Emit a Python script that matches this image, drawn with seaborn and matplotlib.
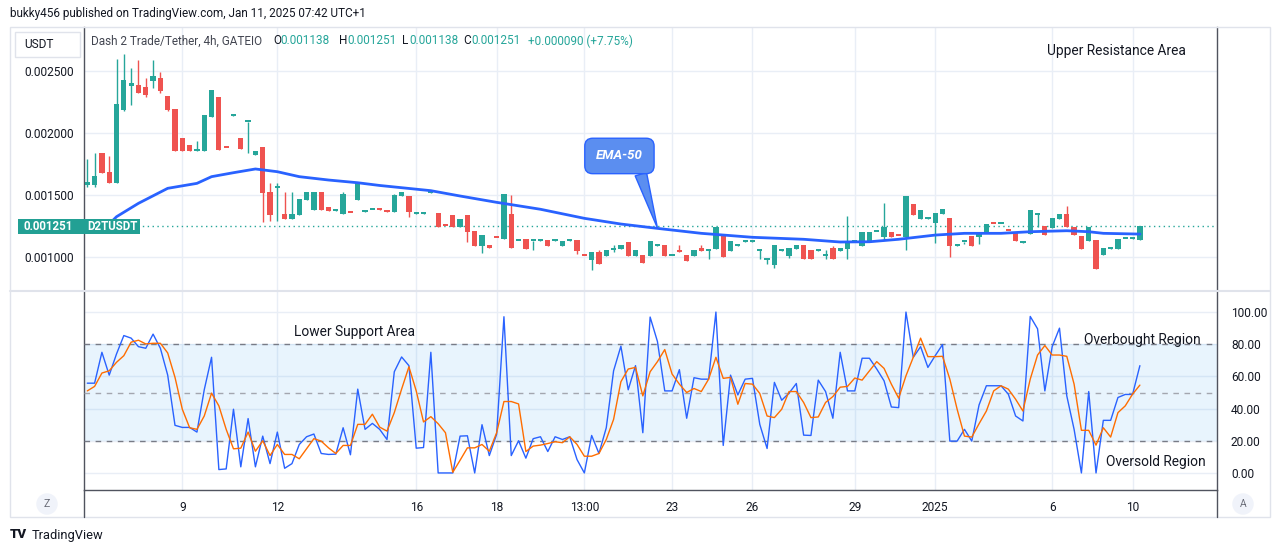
import numpy as np
import pandas as pd
import matplotlib
matplotlib.use("Agg")
import matplotlib.pyplot as plt
from matplotlib.patches import Rectangle
from matplotlib.lines import Line2D
import seaborn as sns

# ---- data (4h candles, D2T/USDT) ----
opens = [0.001581, 0.001581, 0.001836, 0.001685, 0.001599, 0.002185, 0.002381, 0.002387, 0.002371, 0.002422,
         0.002444, 0.002298, 0.002194, 0.001960, 0.001903, 0.001857, 0.001857, 0.002131, 0.002293, 0.001879,
         0.002141, 0.001960, 0.002086, 0.001825, 0.001887, 0.001527, 0.001560, 0.001347, 0.001309, 0.001341,
         0.001462, 0.001379, 0.001524, 0.001403, 0.001375, 0.001349, 0.001354, 0.001462, 0.001367, 0.001377,
         0.001385, 0.001379, 0.001365, 0.001494, 0.001492, 0.001350, 0.001350, 0.001520, 0.001352, 0.001252,
         0.001336, 0.001244, 0.001336, 0.001207, 0.001091, 0.001094, 0.001153, 0.001145, 0.001347, 0.001127,
         0.001143, 0.001127, 0.001133, 0.001137, 0.001133, 0.001091, 0.001133, 0.001137, 0.001008, 0.000976,
         0.001043, 0.001008, 0.001054, 0.001067, 0.001121, 0.001008, 0.001014, 0.001008, 0.001092, 0.001094,
         0.001008, 0.001054, 0.001016, 0.001008, 0.001073, 0.001052, 0.001067, 0.001172, 0.001051, 0.001092,
         0.001125, 0.001125, 0.001052, 0.000979, 0.000938, 0.001052, 0.001010, 0.001065, 0.001097, 0.001056,
         0.001052, 0.001012, 0.001073, 0.001051, 0.001067, 0.001119, 0.001091, 0.001123, 0.001200, 0.001164,
         0.001202, 0.001169, 0.001159, 0.001427, 0.001309, 0.001310, 0.001277, 0.001349, 0.001315, 0.001092,
         0.001121, 0.001172, 0.001159, 0.001196, 0.001268, 0.001264, 0.001209, 0.001194, 0.001117, 0.001183,
         0.001342, 0.001250, 0.001236, 0.001309, 0.001347, 0.001244, 0.001169, 0.001131, 0.001137, 0.001019,
         0.001068, 0.001067, 0.001146, 0.001149, 0.001138]
highs = [0.001790, 0.001839, 0.001840, 0.001815, 0.002597, 0.002637, 0.002527, 0.002589, 0.002444, 0.002589,
         0.002492, 0.002300, 0.002194, 0.001960, 0.001903, 0.001938, 0.002145, 0.002347, 0.002293, 0.001879,
         0.002145, 0.001960, 0.002086, 0.001855, 0.001887, 0.001597, 0.001597, 0.001524, 0.001524, 0.001468,
         0.001524, 0.001524, 0.001524, 0.001403, 0.001377, 0.001524, 0.001354, 0.001597, 0.001369, 0.001379,
         0.001385, 0.001379, 0.001508, 0.001524, 0.001492, 0.001352, 0.001352, 0.001522, 0.001352, 0.001252,
         0.001336, 0.001304, 0.001336, 0.001207, 0.001175, 0.001094, 0.001153, 0.001508, 0.001500, 0.001129,
         0.001143, 0.001129, 0.001135, 0.001137, 0.001135, 0.001131, 0.001135, 0.001137, 0.001008, 0.001038,
         0.001056, 0.001054, 0.001097, 0.001097, 0.001121, 0.001054, 0.001014, 0.001129, 0.001094, 0.001094,
         0.001010, 0.001094, 0.001016, 0.001054, 0.001094, 0.001054, 0.001242, 0.001172, 0.001129, 0.001094,
         0.001127, 0.001127, 0.001054, 0.000981, 0.001097, 0.001054, 0.001073, 0.001094, 0.001097, 0.001056,
         0.001054, 0.001054, 0.001089, 0.001073, 0.001331, 0.001121, 0.001202, 0.001202, 0.001202, 0.001433,
         0.001202, 0.001169, 0.001492, 0.001427, 0.001379, 0.001312, 0.001355, 0.001387, 0.001315, 0.001094,
         0.001123, 0.001172, 0.001202, 0.001266, 0.001268, 0.001266, 0.001209, 0.001194, 0.001119, 0.001379,
         0.001344, 0.001250, 0.001315, 0.001347, 0.001411, 0.001244, 0.001169, 0.001242, 0.001137, 0.001073,
         0.001070, 0.001145, 0.001148, 0.001151, 0.001251]
lows = [0.001562, 0.001565, 0.001675, 0.001595, 0.001595, 0.002180, 0.002226, 0.002320, 0.002290, 0.002365,
        0.002325, 0.002180, 0.001857, 0.001857, 0.001857, 0.001857, 0.001857, 0.002131, 0.001863, 0.001877,
        0.002141, 0.001871, 0.001841, 0.001825, 0.001285, 0.001293, 0.001293, 0.001309, 0.001309, 0.001341,
        0.001462, 0.001379, 0.001379, 0.001373, 0.001375, 0.001349, 0.001352, 0.001462, 0.001367, 0.001377,
        0.001377, 0.001365, 0.001365, 0.001494, 0.001320, 0.001350, 0.001350, 0.001520, 0.001240, 0.001250,
        0.001244, 0.001244, 0.001123, 0.001091, 0.001035, 0.001075, 0.001151, 0.001145, 0.001075, 0.001127,
        0.001067, 0.001056, 0.001133, 0.001091, 0.001133, 0.001091, 0.001133, 0.001022, 0.001006, 0.000898,
        0.000946, 0.001008, 0.001040, 0.001067, 0.001008, 0.001008, 0.000954, 0.001008, 0.001092, 0.001008,
        0.001008, 0.001043, 0.000970, 0.001008, 0.001051, 0.000986, 0.001067, 0.001002, 0.001051, 0.001092,
        0.001125, 0.001125, 0.000986, 0.000941, 0.000914, 0.001052, 0.000990, 0.001065, 0.000981, 0.000981,
        0.001052, 0.000986, 0.000981, 0.001051, 0.000986, 0.001119, 0.001091, 0.001123, 0.001200, 0.001137,
        0.001164, 0.001167, 0.001056, 0.001341, 0.001309, 0.001310, 0.001110, 0.001349, 0.001002, 0.001092,
        0.001102, 0.001091, 0.001102, 0.001196, 0.001266, 0.001264, 0.001207, 0.001131, 0.001117, 0.001183,
        0.001244, 0.001180, 0.001236, 0.001309, 0.001244, 0.001180, 0.001067, 0.001131, 0.000906, 0.001019,
        0.001068, 0.001067, 0.001146, 0.001149, 0.001138]
closes = [0.001602, 0.001653, 0.001680, 0.001599, 0.002234, 0.002427, 0.002403, 0.002325, 0.002306, 0.002460,
          0.002341, 0.002185, 0.001857, 0.001857, 0.001857, 0.001863, 0.002145, 0.002347, 0.001863, 0.001877,
          0.002145, 0.001871, 0.002087, 0.001855, 0.001519, 0.001341, 0.001565, 0.001309, 0.001347, 0.001468,
          0.001524, 0.001524, 0.001379, 0.001373, 0.001377, 0.001508, 0.001352, 0.001597, 0.001369, 0.001379,
          0.001377, 0.001365, 0.001498, 0.001524, 0.001365, 0.001352, 0.001352, 0.001522, 0.001240, 0.001250,
          0.001244, 0.001304, 0.001204, 0.001091, 0.001175, 0.001075, 0.001151, 0.001508, 0.001075, 0.001129,
          0.001067, 0.001129, 0.001135, 0.001091, 0.001135, 0.001131, 0.001135, 0.001051, 0.001006, 0.001038,
          0.000946, 0.001054, 0.001056, 0.001097, 0.001008, 0.001054, 0.000954, 0.001129, 0.001094, 0.001008,
          0.001010, 0.001043, 0.000970, 0.001054, 0.001051, 0.001054, 0.001242, 0.001002, 0.001129, 0.001094,
          0.001127, 0.001127, 0.001054, 0.000981, 0.001097, 0.001054, 0.001073, 0.001094, 0.000981, 0.000981,
          0.001054, 0.001014, 0.000981, 0.001073, 0.001119, 0.001121, 0.001202, 0.001202, 0.001202, 0.001242,
          0.001164, 0.001167, 0.001492, 0.001341, 0.001379, 0.001312, 0.001355, 0.001387, 0.001091, 0.001094,
          0.001123, 0.001091, 0.001202, 0.001266, 0.001266, 0.001266, 0.001207, 0.001131, 0.001119, 0.001379,
          0.001344, 0.001180, 0.001315, 0.001347, 0.001244, 0.001180, 0.001067, 0.001242, 0.000906, 0.001073,
          0.001070, 0.001145, 0.001148, 0.001151, 0.001251]

# EMA-50 (bar index, value)
ema_bar = [3, 4, 7, 11, 15, 17, 20, 23, 26, 29, 33, 37, 40, 47, 51, 56, 62, 68, 73, 78,
           84, 91, 98, 103, 107, 111, 116, 120, 125, 129, 134, 137, 139, 144]
ema_val = [0.001266, 0.001325, 0.001433, 0.001554, 0.001594, 0.001648, 0.001680, 0.001710, 0.001688, 0.001648,
           0.001621, 0.001599, 0.001577, 0.001535, 0.001492, 0.001441, 0.001385, 0.001312, 0.001266, 0.001231,
           0.001191, 0.001159, 0.001143, 0.001121, 0.001123, 0.001143, 0.001177, 0.001191, 0.001191, 0.001204,
           0.001212, 0.001204, 0.001191, 0.001185]

# Stochastic RSI %K (blue) and %D (orange)
stoch_k = [55.8, 55.8, 75.0, 60.8, 74.0, 85.4, 83.8, 78.5, 77.5, 86.3,
           77.5, 60.8, 29.6, 28.3, 28.3, 25.4, 51.7, 71.9, 2.1, 2.5,
           39.6, 3.8, 33.8, 3.8, 22.9, 5.8, 25.4, 2.9, 5.8, 17.7,
           22.5, 24.2, 12.1, 11.5, 11.7, 28.1, 11.3, 52.1, 27.1, 30.8,
           27.1, 20.8, 62.9, 72.1, 66.7, 15.4, 15.8, 75.0, 0.0, 0.0,
           0.0, 22.9, 23.1, 0.0, 30.0, 10.8, 24.0, 97.1, 10.8, 20.0,
           9.2, 21.3, 22.5, 13.3, 22.5, 20.8, 22.5, 8.3, 0.0, 23.3,
           12.1, 28.1, 63.5, 78.8, 51.7, 66.7, 25.0, 96.9, 81.7, 51.0,
           51.0, 64.2, 34.0, 59.2, 58.3, 58.3, 100.0, 17.1, 60.8, 48.5,
           58.3, 58.8, 30.2, 15.2, 56.3, 45.2, 49.6, 55.6, 23.5, 23.3,
           57.7, 50.6, 34.0, 75.0, 51.0, 51.0, 71.3, 71.3, 64.6, 57.3,
           41.0, 40.6, 100.0, 71.9, 78.5, 65.6, 72.9, 79.8, 19.8, 19.8,
           27.1, 19.8, 42.3, 54.2, 54.2, 54.2, 49.0, 35.4, 32.3, 97.3,
           89.6, 51.0, 78.5, 90.0, 47.9, 27.1, 0.0, 50.6, 0.0, 32.7,
           32.7, 46.9, 48.8, 48.8, 66.7]
stoch_d = [51.0, 53.8, 62.1, 63.5, 68.8, 72.9, 81.3, 82.5, 80.2, 80.6,
           80.6, 74.6, 59.4, 39.6, 28.1, 27.1, 35.4, 49.6, 41.7, 27.1,
           15.0, 15.4, 25.4, 13.5, 20.0, 10.8, 17.7, 11.5, 11.5, 8.8,
           15.0, 21.3, 19.8, 15.6, 12.1, 17.1, 17.1, 30.2, 30.2, 36.5,
           28.5, 26.0, 37.5, 52.1, 66.0, 51.0, 31.7, 35.0, 30.6, 25.0,
           0.4, 7.9, 15.6, 15.6, 17.7, 13.5, 25.0, 44.4, 44.4, 42.9,
           13.3, 16.7, 17.3, 18.3, 19.4, 18.8, 22.5, 17.7, 10.4, 10.4,
           12.1, 20.8, 33.3, 56.7, 64.6, 65.6, 47.9, 62.9, 69.2, 76.7,
           61.5, 55.2, 50.0, 52.5, 50.6, 58.3, 71.9, 58.8, 59.4, 42.7,
           55.6, 55.2, 49.4, 35.4, 34.4, 39.6, 50.6, 50.6, 43.8, 34.4,
           34.8, 43.8, 47.5, 53.3, 53.8, 59.0, 57.7, 63.5, 69.2, 65.0,
           55.2, 46.5, 60.4, 71.9, 83.8, 72.3, 72.3, 72.5, 58.3, 39.6,
           22.9, 22.3, 30.6, 38.5, 51.0, 54.2, 52.1, 45.8, 38.5, 58.3,
           73.3, 79.2, 73.3, 73.3, 72.5, 55.2, 26.5, 26.5, 17.3, 28.1,
           22.3, 37.5, 41.7, 49.0, 54.6]

# time axis labels and the bar they sit on
tick_bars = [13, 26, 45, 56, 68, 80, 91, 105, 116, 132, 143]
tick_labels = ["9", "12", "16", "18", "13:00", "23", "26", "29", "2025", "6", "10"]

price_ticks = [0.0010, 0.0015, 0.0020, 0.0025]
stoch_ticks = [0, 20, 40, 60, 80, 100]
last_price = 0.001251

# ---- styling ----
sns.set_theme(style="white")
plt.rcParams['font.family'] = ['Roboto', 'DejaVu Sans']

UP = "#26a69a"
DOWN = "#ef5350"
TXT = "#131722"
GRID = "#e9eef6"
AXL = "#50535e"

W, H = 1281, 553
fig = plt.figure(figsize=(W / 100, H / 100), dpi=100)
fig.patch.set_facecolor("white")


def fx(x):
    return x / W


def fy(y):
    return 1 - y / H


ax1 = fig.add_axes([fx(84), fy(290), (1217 - 84) / W, (290 - 27) / H])
ax2 = fig.add_axes([fx(84), fy(490), (1217 - 84) / W, (490 - 291) / H])

df = pd.DataFrame({"o": opens, "h": highs, "l": lows, "c": closes})
df["bar"] = np.arange(len(df))
df["col"] = np.where(df["c"] >= df["o"], UP, DOWN)

# candles
ax1.vlines(df["bar"], df["l"], df["h"], colors=df["col"], lw=1, zorder=3)
body = (df["c"] - df["o"]).abs().clip(lower=1.6e-5)
ax1.bar(df["bar"], body, bottom=df[["o", "c"]].min(axis=1), width=0.72,
        color=df["col"], linewidth=0, zorder=4)

# EMA-50
sns.lineplot(x=ema_bar, y=ema_val, ax=ax1, color="#2962ff", lw=2, sort=False, zorder=5)
ax1.axhline(last_price, color=UP, lw=1, ls=(0, (1, 2.5)), zorder=2)

ax1.set_xlim(-0.45, 154.55)
ax1.set_ylim(0.000734, 0.002855)
ax1.set_yticks(price_ticks)
ax1.set_yticklabels([f"{v:.6f}" for v in price_ticks])
ax1.set_xticks(tick_bars)
ax1.set_xticklabels([])
ax1.tick_params(axis="y", length=0, pad=7, labelsize=8.6, labelcolor=TXT)
ax1.tick_params(axis="x", length=0)
ax1.grid(True, color=GRID, lw=1)
ax1.set_axisbelow(True)
for s in ["top", "bottom"]:
    ax1.spines[s].set_visible(False)
for s in ["left", "right"]:
    ax1.spines[s].set_color(AXL)
    ax1.spines[s].set_linewidth(1)

# callout
ax1.annotate("EMA-50", xy=(78, 0.001234), xytext=(72.8, 0.001815),
             ha="center", va="center", color="white", fontsize=9.5,
             fontweight="bold", fontstyle="italic", zorder=10,
             bbox=dict(boxstyle="round,pad=0.85,rounding_size=0.6", fc="#5b8ef0", ec="#2962ff", lw=1),
             arrowprops=dict(arrowstyle="wedge,tail_width=0.9,shrink_factor=0.5", fc="#5b8ef0",
                             ec="#2962ff", lw=1, relpos=(0.88, 0.0), shrinkA=0, shrinkB=0))

# stochastic RSI pane
ax2.axhspan(20, 80, color="#2196f3", alpha=0.1, lw=0, zorder=1)
sns.lineplot(x=df["bar"], y=stoch_k, ax=ax2, color="#2962ff", lw=1, sort=False, zorder=4)
sns.lineplot(x=df["bar"], y=stoch_d, ax=ax2, color="#ff6d00", lw=1, sort=False, zorder=5)
for lvl, c in [(80, "#787b86"), (50, "#a3a6af"), (20, "#787b86")]:
    ax2.axhline(lvl, color=c, lw=1, ls=(0, (4, 4)), zorder=3)

ax2.set_xlim(-0.45, 154.55)
ax2.set_ylim(-10.6, 113.1)
ax2.set_xticks(tick_bars)
ax2.set_xticklabels(tick_labels)
ax2.set_yticks(stoch_ticks)
ax2.set_yticklabels([f"{v:.2f}" for v in stoch_ticks])
ax2.yaxis.tick_right()
ax2.set_ylabel("")
ax2.set_xlabel("")
ax1.set_ylabel("")
ax1.set_xlabel("")
ax2.tick_params(axis="y", length=0, pad=10, labelsize=8.6, labelcolor=TXT)
ax2.tick_params(axis="x", length=0, pad=8, labelsize=8.6, labelcolor=TXT)
ax2.grid(True, color=GRID, lw=1)
ax2.set_axisbelow(True)
ax2.spines["top"].set_visible(False)
for s in ["left", "right", "bottom"]:
    ax2.spines[s].set_color(AXL)
    ax2.spines[s].set_linewidth(1)

# frame, separators and labels around the panes
fig.patches.append(Rectangle((fx(10), fy(517)), fx(1260), (517 - 27) / H, transform=fig.transFigure,
                             fill=False, ec="#e0e3eb", lw=1, zorder=0))
fig.lines.append(Line2D([fx(10), fx(1270)], [fy(291), fy(291)], transform=fig.transFigure,
                        color="#e0e3eb", lw=1.5))
fig.lines.append(Line2D([fx(1217), fx(1217)], [fy(490), fy(517)], transform=fig.transFigure,
                        color=AXL, lw=1))
fig.lines.append(Line2D([fx(84), fx(84)], [fy(490), fy(517)], transform=fig.transFigure,
                        color=AXL, lw=1))

fig.text(fx(10), fy(14), "bukky456 published on TradingView.com, Jan 11, 2025 07:42 UTC+1",
         fontsize=8.5, color=TXT, va="center", ha="left")

fig.patches.append(Rectangle((fx(15), fy(57)), 65 / W, 25 / H, transform=fig.transFigure,
                             fc="white", ec="#e0e3eb", lw=1, zorder=5))
fig.text(fx(24), fy(45), "USDT", fontsize=8.6, color=TXT, va="center", ha="left", zorder=6)

fig.text(fx(91), fy(41), "Dash 2 Trade/Tether, 4h, GATEIO", fontsize=8.5, color="#434651", va="center")
for x, s, c in [(273, "O", TXT), (280, "0.001138", UP), (339, "H", TXT), (347, "0.001251", UP),
                (402, "L", TXT), (409, "0.001138", UP), (463, "C", TXT), (471, "0.001251", UP),
                (528, "+0.000090 (+7.75%)", UP)]:
    fig.text(fx(x), fy(41), s, fontsize=8.5, color=c, va="center")

# last price tag
fig.patches.append(Rectangle((fx(18), fy(234)), 122 / W, 15 / H, transform=fig.transFigure,
                             fc="#22a094", ec="none", zorder=6))
fig.text(fx(24), fy(226.5), "0.001251", fontsize=8.3, color="white", va="center", fontweight="bold", zorder=7)
fig.text(fx(87), fy(226.5), "D2TUSDT", fontsize=8.3, color="white", va="center", fontweight="bold", zorder=7)

fig.text(fx(1047), fy(51), "Upper Resistance Area", fontsize=9.9, color=TXT, va="center")
fig.text(fx(294), fy(332), "Lower Support Area", fontsize=9.9, color=TXT, va="center")
fig.text(fx(1084), fy(340), "Overbought Region", fontsize=9.9, color=TXT, va="center")
fig.text(fx(1106), fy(462), "Oversold Region", fontsize=9.9, color=TXT, va="center")

for x, s in [(47, "Z"), (1243, "A")]:
    fig.text(fx(x), fy(504), s, fontsize=7.5, color="#6a6d78", ha="center", va="center", zorder=6,
             bbox=dict(boxstyle="circle,pad=0.55", fc="#f0f3fa", ec="none"))

fig.text(fx(10), fy(535), "TV", fontsize=9.5, fontweight="heavy", color=TXT, va="center")
fig.text(fx(32), fy(535), "TradingView", fontsize=9.3, color=TXT, va="center")

fig.savefig("out.png", dpi=100)
